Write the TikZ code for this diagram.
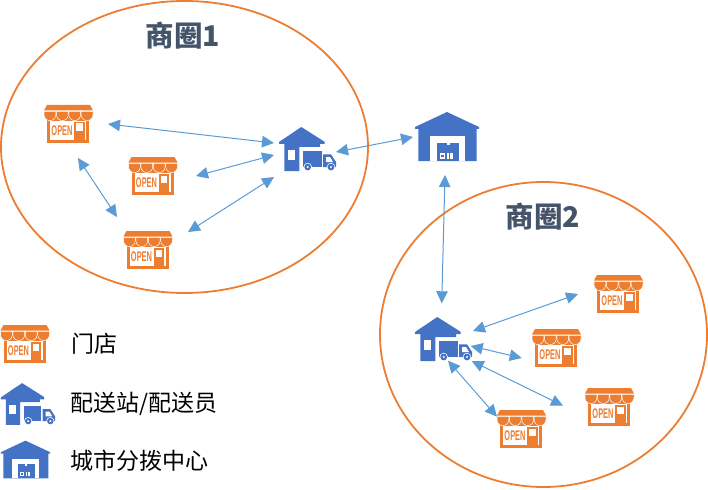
\documentclass[tikz,border=0pt]{standalone}
\usepackage{fontspec}
\setmainfont{Liberation Sans}
\newfontfamily\cjk{Noto Sans CJK SC}
\usetikzlibrary{arrows.meta}

\definecolor{shoporange}{HTML}{ED7D31}
\definecolor{iconblue}{HTML}{4472C4}
\definecolor{linkblue}{HTML}{5B9BD5}
\definecolor{titleslate}{HTML}{44546A}

\tikzset{
  zone/.style={draw=shoporange, line width=1.8pt},
  link/.style={draw=linkblue, line width=1pt, {Triangle[length=12pt,width=11.5pt]}-{Triangle[length=12pt,width=11.5pt]}},
  title/.style={font=\cjk\bfseries\fontsize{28.5}{29}\selectfont, text=titleslate},
  legend/.style={font=\cjk\fontsize{23}{24}\selectfont, anchor=west, inner sep=0pt},
  iconbox/.style={inner sep=0pt, minimum width=#1},
  pics/shop/.style={code={
    \begin{scope}[shift={(-24.5,-19)}]
      \fill[shoporange] (3,0) -- (46,0) -- (49,5.5) -- (0,5.5) -- cycle;
      \fill[shoporange] (3.3,9) rectangle (45.2,38);
      \fill[white] (3.3,6) rectangle (45.2,9.5);
      \fill[white] (6,16) rectangle (42,35);
      \foreach \sx in {0,12.4,24.8,37.2}
        \fill[shoporange, draw=white, line width=.5pt] (\sx,6.4) -- (\sx+11.8,6.4) -- (\sx+11.8,9.7)
          arc[start angle=0, end angle=180, radius=5.9] -- cycle;
      \fill[shoporange] (30,17) rectangle (40.5,35);
      \fill[white] (32,18.5) rectangle (38.8,25.7);
      \node[font=\bfseries\fontsize{14}{14}\selectfont, text=shoporange, xscale=.53, transform shape, inner sep=0pt] (open) at (18,26) {OPEN};
    \end{scope}
  }},
  pics/depot/.style={code={
    \begin{scope}[shift={(-28.5,-22)}]
      \fill[iconblue] (22.3,0) -- (45.5,14.7) -- (45.5,17) -- (41,17) -- (41,20) -- (20.3,20) -- (20.3,44)
        -- (5.3,44) -- (5.3,17) -- (0,17) -- (0,15) -- cycle;
      \fill[white] (9,23.3) rectangle (16,33);
      \fill[iconblue] (24.3,24.3) rectangle (42.7,40);
      \fill[iconblue] (44,27.3) -- (52,27.3) -- (57,35) -- (57,40) -- (44,40) -- cycle;
      \fill[white] (47,30) -- (51,30) -- (54,35) -- (47,35) -- cycle;
      \foreach \wx in {28.7,52} {
        \fill[white] (\wx,40) circle[radius=4.2];
        \fill[iconblue] (\wx,40) circle[radius=3.4];
        \fill[white] (\wx,40) circle[radius=1.2];
      }
    \end{scope}
  }},
  pics/ware/.style={code={
    \begin{scope}[shift={(-32,-24.5)}]
      \fill[iconblue] (32,0) -- (64,15) -- (64,17) -- (61.7,17) -- (61.7,49) -- (3.3,49) -- (3.3,17) -- (0,17) -- (0,15) -- cycle;
      \fill[white] (15,24) rectangle (50,49);
      \fill[iconblue] (22.3,30.7) rectangle (44,49);
      \fill[white] (31.8,30.7) rectangle (34.5,33);
      \fill[white] (24.5,41) rectangle (30,46.5);
      \fill[white] (32,41) rectangle (37.5,46.5);
      \fill[iconblue] (26,42.5) rectangle (28.5,45);
      \fill[iconblue] (34.2,41) rectangle (35.2,46.5);
    \end{scope}
  }}
}

\begin{document}
\begin{tikzpicture}[x=1pt, y=-1pt]
  \useasboundingbox (0,0) rectangle (708,489);

  % zones
  \draw[zone] (184.5,147) ellipse[x radius=183.5, y radius=146];
  \draw[zone] (543.5,334.5) ellipse[x radius=163.5, y radius=152.5];
  \node[title] (zoneA) at (183,36) {商圈1};
  \node[title] (zoneB) at (543,217) {商圈2};

  % anchors for the icons
  \node[iconbox=49pt] (shopA) at (68.5,124) {};
  \node[iconbox=49pt] (shopB) at (153,176) {};
  \node[iconbox=49pt] (shopC) at (148,250) {};
  \node[iconbox=49pt] (shopD) at (618.5,294) {};
  \node[iconbox=49pt] (shopE) at (556.5,348) {};
  \node[iconbox=49pt] (shopF) at (609.5,407) {};
  \node[iconbox=49pt] (shopG) at (521.5,429) {};
  \node[iconbox=57pt] (depotA) at (307.5,149) {};
  \node[iconbox=57pt] (depotB) at (443.5,339) {};
  \node[iconbox=64pt] (wareA) at (447,136.5) {};
  \node[iconbox=49pt] (shopL) at (25,344) {};
  \node[iconbox=54pt] (depotL) at (28,404) {};
  \node[iconbox=49pt] (wareL) at (25.5,459.5) {};

  \foreach \n in {shopA,shopB,shopC,shopD,shopE,shopF,shopG,shopL}
    \pic at (\n) {shop};
  \foreach \n in {depotA,depotB}
    \pic at (\n) {depot};
  \pic at (wareA) {ware};
  \pic[scale=.95] at (depotL) {depot};
  \pic[scale=.77] at (wareL) {ware};

  % links
  \draw[link] ([shift={(39.5,0)}]shopA.center) -- ([shift={(-33.5,-6)}]depotA.center);
  \draw[link] ([shift={(43,0)}]shopB.center) -- ([shift={(-33.5,6)}]depotA.center);
  \draw[link] ([shift={(40,-18)}]shopC.center) -- ([shift={(-33.5,28)}]depotA.center);
  \draw[link] ([shift={(9.5,34)}]shopA.center) -- ([shift={(-31,-33)}]shopC.center);
  \draw[link] ([shift={(28.5,3)}]depotA.center) -- ([shift={(-34,.5)}]wareA.center);
  \draw[link] ([shift={(-2,38.5)}]wareA.center) -- ([shift={(-1.8,-35.7)}]depotB.center);
  \draw[link] ([shift={(29.5,-8)}]depotB.center) -- ([shift={(-40.5,0)}]shopD.center);
  \draw[link] ([shift={(27.2,7)}]depotB.center) -- ([shift={(-34.8,10)}]shopE.center);
  \draw[link] ([shift={(28.2,22)}]depotB.center) -- ([shift={(-46.5,-1.3)}]shopF.center);
  \draw[link] ([shift={(4.5,21.7)}]depotB.center) -- ([shift={(-24.5,-12.3)}]shopG.center);

  % legend
  \node[legend] (shopT) at (71,344) {门店};
  \node[legend] (depotT) at (70,404) {配送站/配送员};
  \node[legend] (wareT) at (70,461) {城市分拨中心};
\end{tikzpicture}
\end{document}
